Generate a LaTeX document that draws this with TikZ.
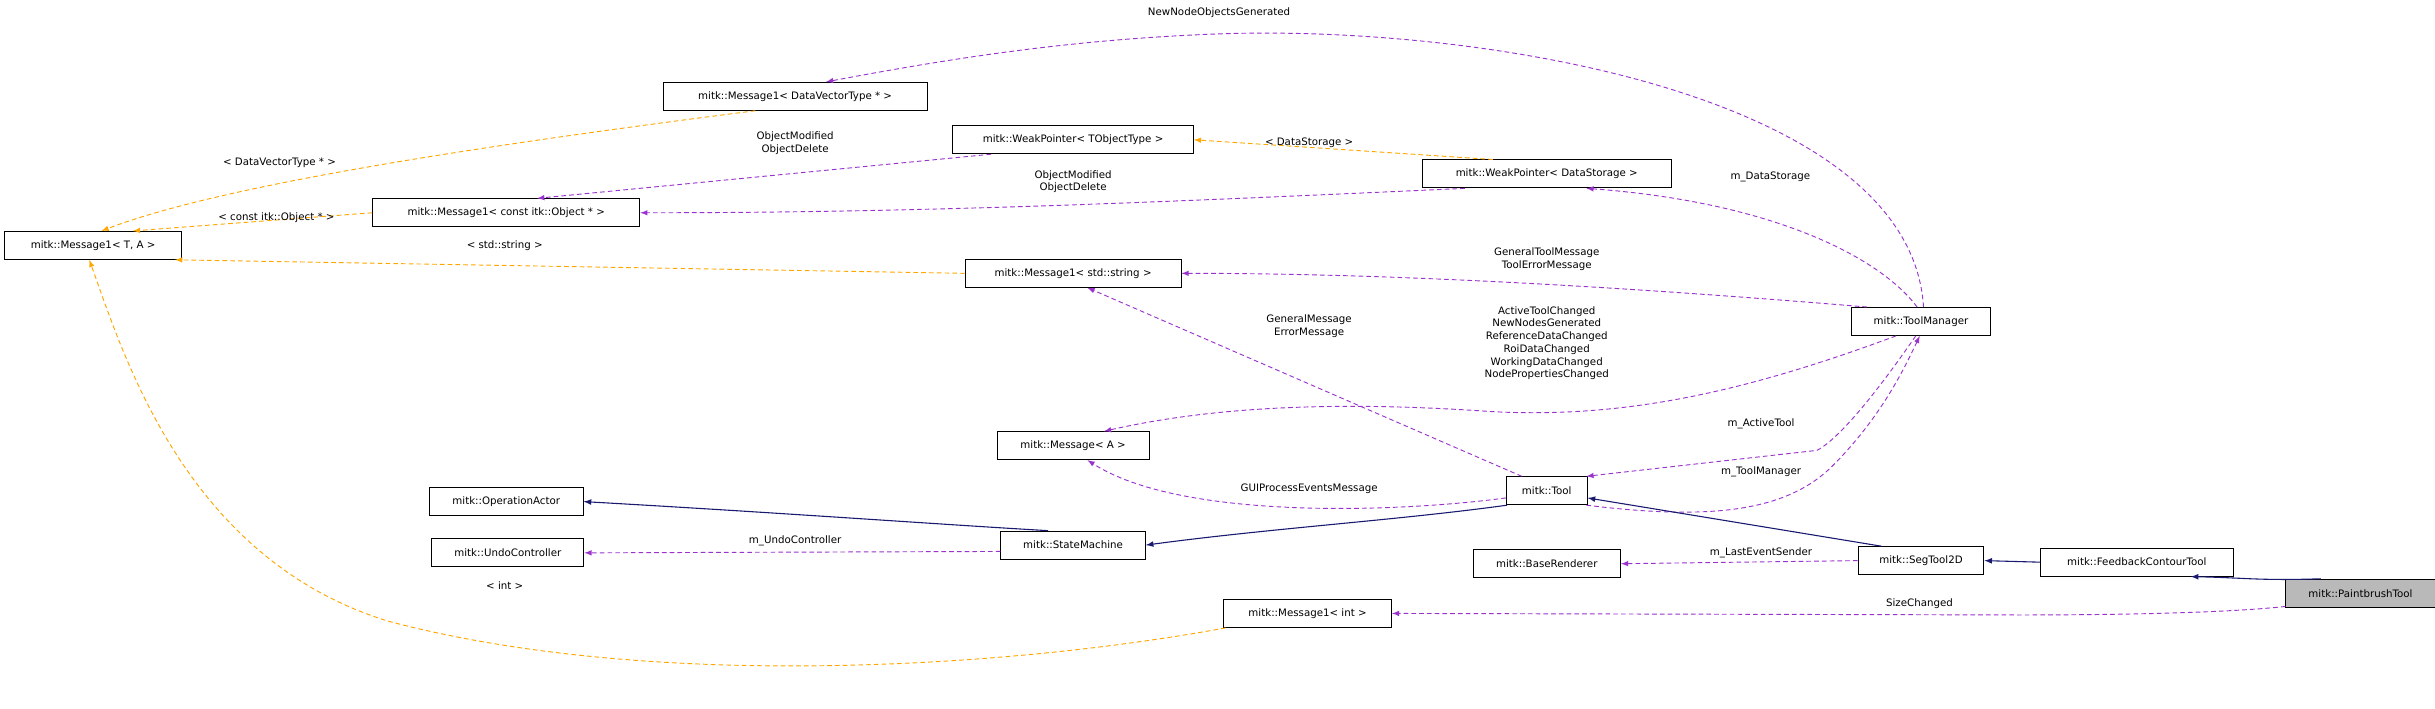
\documentclass[tikz,border=0pt]{standalone}
\usepackage{fontspec}
\setmainfont{DejaVu Sans}
\usetikzlibrary{calc}
\definecolor{inst}{rgb}{1.0, 0.65, 0.0}
\definecolor{use}{rgb}{0.60, 0.20, 0.80}
\definecolor{inh}{rgb}{0.10, 0.10, 0.44}

\begin{document}
\begin{tikzpicture}[
    x=1pt, y=-1pt,
    every node/.style={font=\fontsize{6.6}{8.2}\selectfont},
    cls/.style={draw=black, line width=0.6pt, minimum height=18pt, inner sep=0pt},
    lbl/.style={align=center, inner sep=0pt},
    tmpl/.style={>=latex, ->, densely dashed, draw=inst, line width=0.6pt},
    usage/.style={>=latex, ->, densely dashed, draw=use, line width=0.6pt},
    base/.style={>=latex, ->, draw=inh, line width=0.7pt}
  ]
    \useasboundingbox (0,0) rectangle (1568,456);

    % classes
    \node[cls, minimum width=114pt] (msgta) at (60,158) {mitk::Message1< T, A >};
    \node[cls, minimum width=170pt] (msgdvt) at (512,62) {mitk::Message1< DataVectorType * >};
    \node[cls, minimum width=155pt] (wpobj) at (691,90) {mitk::WeakPointer< TObjectType >};
    \node[cls, minimum width=172pt] (msgitk) at (326,137) {mitk::Message1< const itk::Object * >};
    \node[cls, minimum width=139pt] (msgstr) at (691,176) {mitk::Message1< std::string >};
    \node[cls, minimum width=98pt] (msga) at (691,287) {mitk::Message< A >};
    \node[cls, minimum width=99pt] (opactor) at (326,323) {mitk::OperationActor};
    \node[cls, minimum width=98pt] (undo) at (327,356) {mitk::UndoController};
    \node[cls, minimum width=93pt] (statem) at (691,351) {mitk::StateMachine};
    \node[cls, minimum width=160pt] (wpds) at (996,112) {mitk::WeakPointer< DataStorage >};
    \node[cls, minimum width=89pt] (toolman) at (1237,207) {mitk::ToolManager};
    \node[cls, minimum width=52pt] (tool) at (996,316) {mitk::Tool};
    \node[cls, minimum width=81pt] (seg) at (1237,361) {mitk::SegTool2D};
    \node[cls, minimum width=95pt] (baserend) at (996,363) {mitk::BaseRenderer};
    \node[cls, minimum width=124pt] (feedback) at (1376,362) {mitk::FeedbackContourTool};
    \node[cls, minimum width=96pt, fill=gray!55] (paint) at (1520,382) {mitk::PaintbrushTool};
    \node[cls, minimum width=108pt] (msgint) at (842,395) {mitk::Message1< int >};

    % template instances
    \draw[tmpl] (msgdvt.200) .. controls (300,95) and (140,120) .. (msgta.60);
    \draw[tmpl] (msgitk.west) -- (msgta.20);
    \draw[tmpl] (msgstr.west) -- (msgta.-10);
    \draw[tmpl] (msgint.190) .. controls (650,430) and (420,445) .. (250,400)
      .. controls (120,360) and (80,230) .. (msgta.-105);
    \draw[tmpl] (wpds.165) -- (wpobj.east);
    \node[lbl] (ldvt) at (180,105) {< DataVectorType * >};
    \node[lbl] (litk) at (178,140) {< const itk::Object * >};
    \node[lbl] (lstr) at (325,158) {< std::string >};
    \node[lbl] (lint) at (325,377) {< int >};
    \node[lbl] (lds) at (843,92) {< DataStorage >};

    % usage
    \draw[usage] (toolman.80) .. controls (1230,60) and (950,15) .. (780,22)
      .. controls (680,26) and (600,40) .. (msgdvt.25);
    \draw[usage] (wpobj.190) -- (msgitk.25);
    \draw[usage] (wpds.190) .. controls (750,130) and (600,137) .. (msgitk.east);
    \draw[usage] (toolman.105) .. controls (1210,165) and (1140,130) .. (wpds.-20);
    \draw[usage] (toolman.165) .. controls (1050,185) and (900,176) .. (msgstr.east);
    \draw[usage] (toolman.-150) .. controls (1130,250) and (1050,270) .. (960,265)
      .. controls (860,258) and (780,262) .. (msga.25);
    \draw[usage] (tool.150) -- (msgstr.-45);
    \draw[usage] (tool.190) .. controls (900,330) and (760,335) .. (msga.-45);
    \draw[usage] (toolman.-110) .. controls (1200,265) and (1180,285) .. (1170,290)
      -- (tool.20);
    \draw[usage] (tool.-20) .. controls (1100,335) and (1150,330) .. (1180,300)
      .. controls (1210,270) and (1225,240) .. (toolman.-95);
    \draw[usage] (statem.185) -- (undo.east);
    \draw[usage] (seg.west) -- (baserend.east);
    \draw[usage] (paint.-170) .. controls (1440,394) and (1380,396) .. (1300,396) -- (msgint.east);
    \node[lbl] (lnew) at (785,8) {NewNodeObjectsGenerated};
    \node[lbl] (lobj1) at (512,92) {ObjectModified\\ObjectDelete};
    \node[lbl] (lobj2) at (691,117) {ObjectModified\\ObjectDelete};
    \node[lbl] (ldata) at (1140,114) {m\_DataStorage};
    \node[lbl] (lgen) at (996,167) {GeneralToolMessage\\ToolErrorMessage};
    \node[lbl] (lact) at (996,221) {ActiveToolChanged\\NewNodesGenerated\\ReferenceDataChanged\\RoiDataChanged\\WorkingDataChanged\\NodePropertiesChanged};
    \node[lbl] (lmsg) at (843,210) {GeneralMessage\\ErrorMessage};
    \node[lbl] (lgui) at (843,315) {GUIProcessEventsMessage};
    \node[lbl] (lactive) at (1134,273) {m\_ActiveTool};
    \node[lbl] (ltm) at (1134,304) {m\_ToolManager};
    \node[lbl] (lundo) at (512,348) {m\_UndoController};
    \node[lbl] (lsend) at (1134,356) {m\_LastEventSender};
    \node[lbl] (lsize) at (1236,389) {SizeChanged};

    % inheritance
    \draw[base] (statem.150) .. controls (610,338) and (500,330) .. (opactor.east);
    \draw[base] (tool.200) .. controls (900,335) and (820,340) .. (statem.east);
    \draw[base] (seg.160) -- (tool.-10);
    \draw[base] (feedback.west) -- (seg.east);
    \draw[base] (paint.160) .. controls (1455,374) and (1445,372) .. (feedback.-15);
\end{tikzpicture}
\end{document}
